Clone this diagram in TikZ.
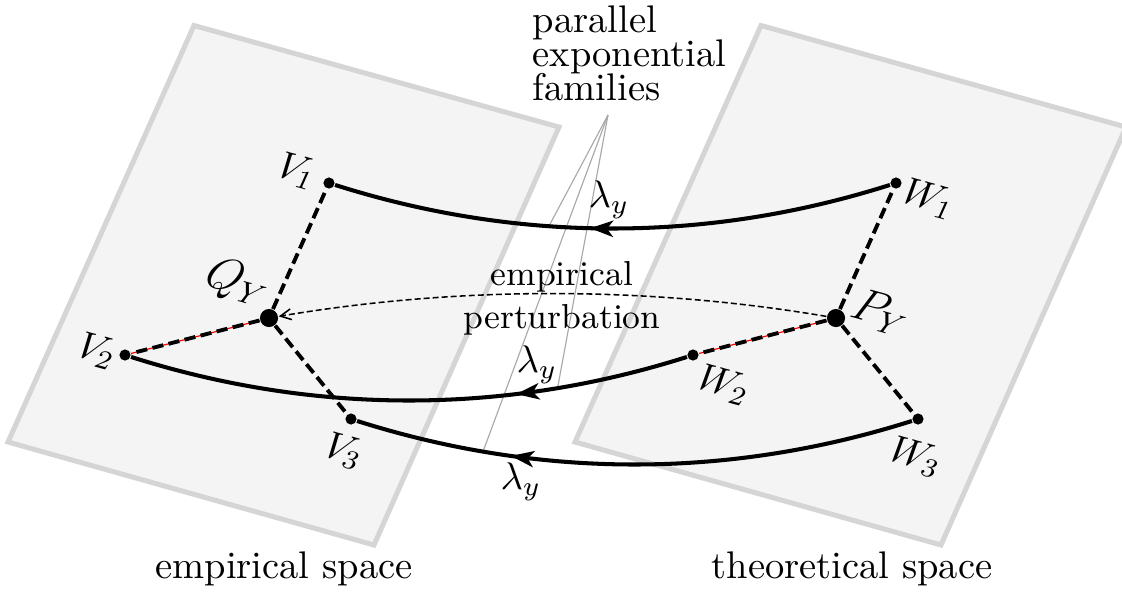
\documentclass[tikz,border=0pt]{standalone}
\usetikzlibrary{arrows.meta,decorations.markings}
\pgfdeclarelayer{back}
\pgfdeclarelayer{mid}
\pgfsetlayers{back,mid,main}
\definecolor{planefill}{HTML}{F4F4F4}
\definecolor{planeedge}{HTML}{D5D5D5}
\definecolor{guide}{HTML}{A9A9A9}
\tikzset{
  plane/.style={fill=planefill,draw=planeedge,line width=1.3pt},
  dot/.style={circle,fill=black,inner sep=0pt,minimum size=2.9pt},
  bigdot/.style={circle,fill=black,inner sep=0pt,minimum size=4.7pt},
  planelabel/.style={rotate=-15.5,xslant=0.15,inner sep=0pt},
  chord/.style={line width=1pt,dash pattern=on 2.9pt off 1.4pt},
  redline/.style={red,line width=0.3pt},
  family/.style={line width=1.05pt},
  famarrow/.style={postaction={decorate},decoration={markings,mark=at position #1 with {\arrow{Stealth[length=6pt,width=4.2pt,inset=1.6pt]}}}},
  guideline/.style={guide,line width=0.3pt},
  perturb/.style={line width=0.4pt,dash pattern=on 1.55pt off 0.8pt,-{Straight Barb[length=2.8pt,width=2.8pt]}},
  plain/.style={inner sep=0pt},
}
\begin{document}
\begin{tikzpicture}[x=0.2597pt,y=-0.2597pt]
\useasboundingbox (0,0) rectangle (1122,596);
\begin{pgfonlayer}{back}
\draw[plane] (194,25.5) -- (559,127) -- (374,545) -- (8,442) -- cycle;
\draw[plane] (761,25.5) -- (1126,127) -- (941,545) -- (575,442) -- cycle;
\end{pgfonlayer}
% points
\node[dot] (V1) at (329,183) {};
\node[dot] (V2) at (125,355) {};
\node[dot] (V3) at (351,419) {};
\node[bigdot] (Q) at (269,318) {};
\node[dot] (W1) at (896,183) {};
\node[dot] (W2) at (693,355) {};
\node[dot] (W3) at (918,419) {};
\node[bigdot] (P) at (836,318) {};
% chords
\draw[redline] (Q) -- (V2);
\draw[redline] (P) -- (W2);
\draw[chord] (Q) -- (V1);
\draw[chord] (Q) -- (V2);
\draw[chord] (Q) -- (V3);
\draw[chord] (P) -- (W1);
\draw[chord] (P) -- (W2);
\draw[chord] (P) -- (W3);
% exponential families
\draw[family,famarrow=0.54] (W1) .. controls +(-189,60) and +(189,60) .. (V1) coordinate[pos=0.614] (f1);
\draw[family,famarrow=0.31] (W2) .. controls +(-189,60) and +(189,60) .. (V2) coordinate[pos=0.234] (f2);
\draw[family,famarrow=0.72] (W3) .. controls +(-189,60) and +(189,60) .. (V3) coordinate[pos=0.772] (f3);
% perturbation
\draw[perturb] (P) .. controls +(-189,-32) and +(189,-32) .. (Q);
% guide lines
\coordinate (apex) at (608,115);
\begin{pgfonlayer}{mid}
\draw[guideline] (apex) -- (f1);
\draw[guideline] (apex) -- (f2);
\draw[guideline] (apex) -- (f3);
\end{pgfonlayer}
% labels
\node[planelabel] (lV1) at (297,171) {$V_1$};
\node[planelabel] (lV2) at (97,351) {$V_2$};
\node[planelabel] (lV3) at (344,451) {$V_3$};
\node[planelabel,font=\large] (lQ) at (238,283) {$Q_Y$};
\node[planelabel] (lW1) at (929,199) {$W_1$};
\node[planelabel] (lW2) at (724,385) {$W_2$};
\node[planelabel] (lW3) at (916,457) {$W_3$};
\node[planelabel,font=\large] (lP) at (881,313) {$P_Y$};
\node[plain] (lam1) at (609,200) {$\lambda_y$};
\node[plain] (lam2) at (537,365) {$\lambda_y$};
\node[plain] (lam3) at (521,482) {$\lambda_y$};
\node[plain,anchor=north west,align=left,font={\fontsize{10pt}{8.8pt}\selectfont\lineskiplimit=-20pt}] (fam) at (532,5) {parallel\\exponential\\families};
\node[plain,anchor=north,align=center,font={\small\lineskiplimit=-20pt}] (pert) at (562,261) {empirical\\perturbation};
\node[plain,anchor=base] (es) at (284,578) {empirical space};
\node[plain,anchor=base] (ts) at (852,578) {theoretical space};
\end{tikzpicture}
\end{document}
